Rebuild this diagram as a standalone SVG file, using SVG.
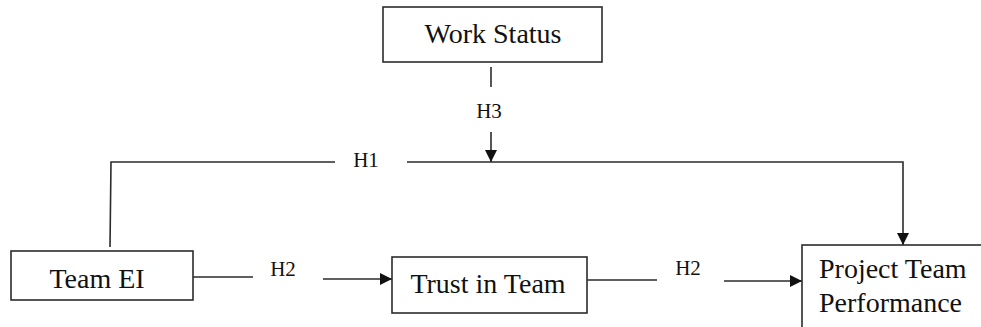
<svg xmlns="http://www.w3.org/2000/svg" width="981" height="327" viewBox="0 0 981 327">
<style>
.box{fill:#fff;stroke:#2b2b2b;stroke-width:1.6}
.t{font-family:"Liberation Serif","Times New Roman",serif;font-size:28px;fill:#111}
.lbl{font-family:"Liberation Serif","Times New Roman",serif;font-size:21px;fill:#111;text-anchor:middle}
.ln{fill:none;stroke:#2b2b2b;stroke-width:1.6}
</style>
<defs>
<marker id="ah" markerWidth="12" markerHeight="12" refX="12" refY="6" orient="auto" markerUnits="userSpaceOnUse">
<path d="M0,0 L12,6 L0,12 Z" fill="#111"/>
</marker>
</defs>
<rect width="981" height="327" fill="#fff"/>
<g id="connectors">
<line class="ln" x1="491" y1="67" x2="491" y2="87"/>
<line class="ln" x1="491" y1="132" x2="491" y2="162" marker-end="url(#ah)"/>
<polyline class="ln" points="110,247 111,162 335,162"/>
<polyline class="ln" points="407,162 903,162 903,245" marker-end="url(#ah)"/>
<line class="ln" x1="193" y1="277" x2="253" y2="277"/>
<line class="ln" x1="323" y1="279" x2="392" y2="279" marker-end="url(#ah)"/>
<line class="ln" x1="587" y1="280" x2="657" y2="280"/>
<line class="ln" x1="724" y1="281" x2="802" y2="281" marker-end="url(#ah)"/>
<text class="lbl" x="489" y="118">H3</text>
<text class="lbl" x="366" y="167">H1</text>
<text class="lbl" x="283" y="276">H2</text>
<text class="lbl" x="688" y="275">H2</text>
</g>
<g id="work-status">
<rect class="box" x="383" y="7" width="219" height="55"/>
<text class="t" x="493" y="43" text-anchor="middle">Work Status</text>
</g>
<g id="team-ei">
<rect class="box" x="11" y="251" width="182" height="49"/>
<text class="t" x="97" y="288" text-anchor="middle">Team EI</text>
</g>
<g id="trust-in-team">
<rect class="box" x="392" y="257" width="195" height="56"/>
<text class="t" x="488" y="293" text-anchor="middle">Trust in Team</text>
</g>
<g id="project-team-performance">
<rect class="box" x="802" y="245" width="200" height="100"/>
<text class="t" x="819" y="278">Project Team</text>
<text class="t" x="819" y="312">Performance</text>
</g>
</svg>
